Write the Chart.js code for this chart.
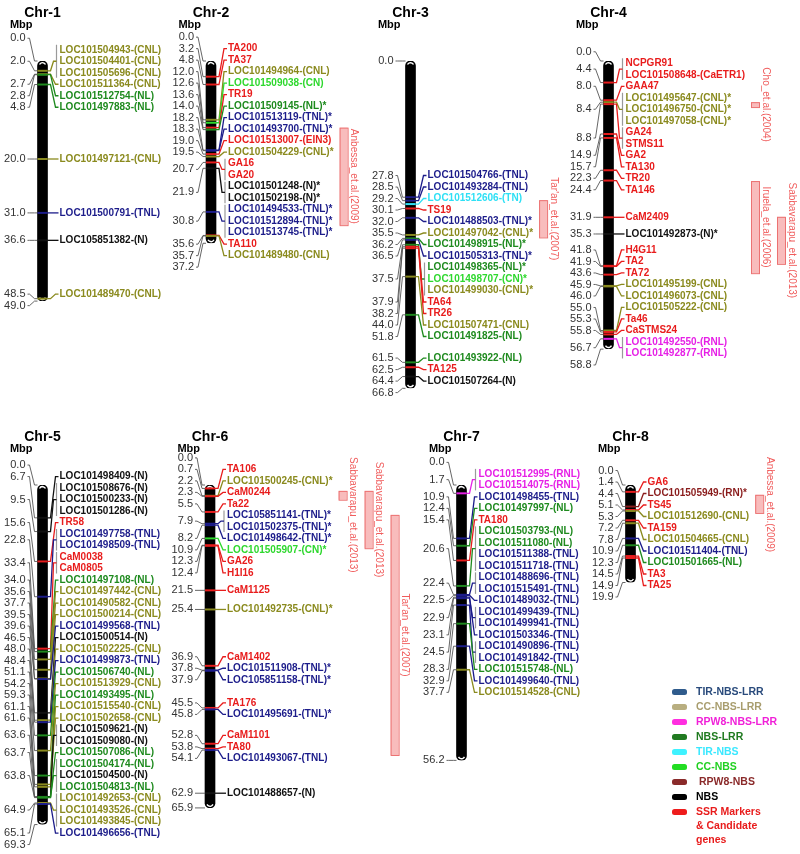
<!DOCTYPE html>
<html>
<head>
<meta charset="utf-8">
<title>NBS-LRR genes on chickpea chromosomes</title>
<script src="https://cdn.jsdelivr.net/npm/chart.js@4.4.1/dist/chart.umd.min.js"></script>
<style>
  body { margin: 0; background: #fff; }
  #wrap { position: relative; width: 800px; height: 854px; }
  #wrap canvas { position: absolute; left: 0; top: 0; }
</style>
</head>
<body>
<div id="wrap"></div>
<script>
// ---- data: chromosome length (Mbp), loci positions (Mbp) and genes at each locus ----
const chr1Length = 49.0;
const chr1Loci = [2.0, 2.7, 2.8, 4.8, 20.0, 31.0, 36.6, 48.5];
const chr1Genes = [
  ["LOC101504943-(CNL)", "LOC101504401-(CNL)", "LOC101505696-(CNL)"],
  ["LOC101511364-(CNL)"], ["LOC101512754-(NL)"], ["LOC101497883-(NL)"],
  ["LOC101497121-(CNL)"], ["LOC101500791-(TNL)"], ["LOC105851382-(N)"], ["LOC101489470-(CNL)"]
];

const chr2Length = 37.2;
const chr2Loci = [3.2, 4.8, 12.0, 12.6, 13.6, 14.0, 18.2, 18.3, 19.0, 19.5, 20.7, 21.9, 30.8, 35.6, 35.7];
const chr2Genes = [
  ["TA200"], ["TA37"], ["LOC101494964-(CNL)"], ["LOC101509038-(CN)"], ["TR19"],
  ["LOC101509145-(NL)*"], ["LOC101513119-(TNL)*"], ["LOC101493700-(TNL)*"], ["LOC101513007-(EIN3)"],
  ["LOC101504229-(CNL)*"], ["GA16", "GA20"], ["LOC101501248-(N)*", "LOC101502198-(N)*"],
  ["LOC101494533-(TNL)*", "LOC101512894-(TNL)*", "LOC101513745-(TNL)*"], ["TA110"], ["LOC101489480-(CNL)"]
];

const chr3Length = 66.8;
const chr3Loci = [27.8, 28.5, 29.2, 30.1, 32.0, 35.5, 36.2, 36.5, 37.5, 37.9, 38.2, 44.0, 51.8, 61.5, 62.5, 64.4];
const chr3Genes = [
  ["LOC101504766-(TNL)"], ["LOC101493284-(TNL)"], ["LOC101512606-(TN)"], ["TS19"],
  ["LOC101488503-(TNL)*"], ["LOC101497042-(CNL)*"], ["LOC101498915-(NL)*"], ["LOC101505313-(TNL)*"],
  ["LOC101498365-(NL)*", "LOC101498707-(CN)*", "LOC101499030-(CNL)*"], ["TA64"], ["TR26"],
  ["LOC101507471-(CNL)"], ["LOC101491825-(NL)"], ["LOC101493922-(NL)"], ["TA125"], ["LOC101507264-(N)"]
];

const chr4Length = 58.8;
const chr4Loci = [4.4, 8.0, 8.4, 8.8, 14.9, 15.7, 22.3, 24.4, 31.9, 35.3, 41.8, 41.9, 43.6, 45.9, 46.0, 55.0, 55.3, 55.8, 56.7];
const chr4Genes = [
  ["NCPGR91", "LOC101508648-(CaETR1)"], ["GAA47"],
  ["LOC101495647-(CNL)*", "LOC101496750-(CNL)*", "LOC101497058-(CNL)*"], ["GA24", "STMS11"],
  ["GA2"], ["TA130"], ["TR20"], ["TA146"], ["CaM2409"], ["LOC101492873-(N)*"], ["H4G11"], ["TA2"], ["TA72"],
  ["LOC101495199-(CNL)"], ["LOC101496073-(CNL)"], ["LOC101505222-(CNL)"], ["Ta46"], ["CaSTMS24"],
  ["LOC101492550-(RNL)", "LOC101492877-(RNL)"]
];

const chr5Length = 69.3;
const chr5Loci = [6.7, 9.5, 15.6, 22.8, 33.4, 34.0, 35.6, 37.7, 39.5, 39.6, 46.5, 48.0, 48.4, 51.1, 54.2, 59.3, 61.1, 61.6, 63.6, 63.7, 63.8, 64.9, 65.1];
const chr5Genes = [
  ["LOC101498409-(N)"], ["LOC101508676-(N)", "LOC101500233-(N)", "LOC101501286-(N)"], ["TR58"],
  ["LOC101497758-(TNL)", "LOC101498509-(TNL)"], ["CaM0038", "CaM0805"], ["LOC101497108-(NL)"],
  ["LOC101497442-(CNL)"], ["LOC101490582-(CNL)"], ["LOC101500214-(CNL)"], ["LOC101499568-(TNL)"],
  ["LOC101500514-(N)"], ["LOC101502225-(CNL)"], ["LOC101499873-(TNL)"], ["LOC101506740-(NL)"],
  ["LOC101513929-(CNL)"], ["LOC101493495-(NL)"], ["LOC101515540-(CNL)"], ["LOC101502658-(CNL)"],
  ["LOC101509621-(N)", "LOC101509080-(N)"], ["LOC101507086-(NL)"],
  ["LOC101504174-(NL)", "LOC101504500-(N)", "LOC101504813-(NL)"],
  ["LOC101492653-(CNL)", "LOC101493526-(CNL)", "LOC101493845-(CNL)"], ["LOC101496656-(TNL)"]
];

const chr6Length = 65.9;
const chr6Loci = [0.7, 2.2, 2.3, 5.5, 7.9, 8.2, 10.9, 12.3, 12.4, 21.5, 25.4, 36.9, 37.8, 37.9, 45.5, 45.8, 52.8, 53.8, 54.1, 62.9];
const chr6Genes = [
  ["TA106"], ["LOC101500245-(CNL)*"], ["CaM0244"], ["Ta22"],
  ["LOC105851141-(TNL)*", "LOC101502375-(TNL)*"], ["LOC101498642-(TNL)*"], ["LOC101505907-(CN)*"],
  ["GA26"], ["H1I16"], ["CaM1125"], ["LOC101492735-(CNL)*"], ["CaM1402"], ["LOC101511908-(TNL)*"],
  ["LOC105851158-(TNL)*"], ["TA176"], ["LOC101495691-(TNL)*"], ["CaM1101"], ["TA80"],
  ["LOC101493067-(TNL)"], ["LOC101488657-(N)"]
];

const chr7Length = 56.2;
const chr7Loci = [1.7, 10.9, 12.4, 15.4, 20.6, 22.4, 22.5, 22.9, 23.1, 24.5, 28.3, 32.9, 37.7];
const chr7Genes = [
  ["LOC101512995-(RNL)", "LOC101514075-(RNL)"], ["LOC101498455-(TNL)"], ["LOC101497997-(NL)"], ["TA180"],
  ["LOC101503793-(NL)", "LOC101511080-(NL)", "LOC101511388-(TNL)", "LOC101511718-(TNL)"],
  ["LOC101488696-(TNL)", "LOC101515491-(TNL)"], ["LOC101489032-(TNL)"],
  ["LOC101499439-(TNL)", "LOC101499941-(TNL)"], ["LOC101503346-(TNL)"],
  ["LOC101490896-(TNL)", "LOC101491842-(TNL)"], ["LOC101515748-(NL)"], ["LOC101499640-(TNL)"], ["LOC101514528-(CNL)"]
];

const chr8Length = 19.9;
const chr8Loci = [1.4, 4.4, 5.1, 5.3, 7.2, 7.8, 10.9, 12.3, 14.5, 14.9];
const chr8Genes = [
  ["GA6"], ["LOC101505949-(RN)*"], ["TS45"], ["LOC101512690-(CNL)"], ["TA159"],
  ["LOC101504665-(CNL)"], ["LOC101511404-(TNL)"], ["LOC101501665-(NL)"], ["TA3"], ["TA25"]
];

// QTL intervals (Mbp) reported in earlier studies
const qtlChrom = [2, 3, 4, 4, 4, 6, 6, 6, 8];
const qtlNames = ["Anbessa_et.al.(2009)", "Tar'an_et.al.(2007)", "Cho_et.al.(2004)", "Iruela_et.al.(2006)",
  "Sabbavarapu_et.al.(2013)", "Sabbavarapu_et.al.(2013)", "Sabbavarapu_et.al.(2013)", "Tar'an_et.al.(2007)",
  "Anbessa_et.al.(2009)"];
const qtlStart = [13.6, 28.4, 8.4, 24.5, 31.8, 1.2, 1.2, 6.1, 2.0];
const qtlEnd = [33.5, 36.0, 9.4, 43.3, 41.4, 3.0, 12.9, 55.1, 5.7];

const legendLabels = ["TIR-NBS-LRR", "CC-NBS-LRR", "RPW8-NBS-LRR", "NBS-LRR", "TIR-NBS", "CC-NBS", " RPW8-NBS", "NBS",
  "SSR Markers\n& Candidate\ngenes"];

// ---- styles / layout ----
const FONT = "'Liberation Sans', Arial, sans-serif";
const SCALE = 4.9;        // px per Mbp
const ROW = 11.5;         // label pitch
const typeColors = { CNL: '#8a8a1e', NL: '#1e8a1e', TNL: '#1c1c8a', TN: '#2ee0f5', CN: '#2ed82e',
  RNL: '#e620e6', RN: '#8a1c1c', N: '#111111' };
const markerColor = '#e81c1c';
const legendSwatch = ['#2f5b8c', '#b8ae80', '#ff2ee0', '#217a21', '#3ef2ff', '#22dd22', '#8a2a2a', '#000000', '#ee1c1c'];
const legendText = ['#2a4b7c', '#a89d6e', '#f020d8', '#1f7a1f', '#3ae8ff', '#22d022', '#8a2a2a', '#000000', '#e81c1c'];

const chromosomes = [
  { name: 'Chr-1', length: chr1Length, loci: chr1Loci, genes: chr1Genes, cx: 42.5, top: 61 },
  { name: 'Chr-2', length: chr2Length, loci: chr2Loci, genes: chr2Genes, cx: 211, top: 61 },
  { name: 'Chr-3', length: chr3Length, loci: chr3Loci, genes: chr3Genes, cx: 410.5, top: 61 },
  { name: 'Chr-4', length: chr4Length, loci: chr4Loci, genes: chr4Genes, cx: 608.5, top: 61 },
  { name: 'Chr-5', length: chr5Length, loci: chr5Loci, genes: chr5Genes, cx: 42.5, top: 485 },
  { name: 'Chr-6', length: chr6Length, loci: chr6Loci, genes: chr6Genes, cx: 210, top: 485 },
  { name: 'Chr-7', length: chr7Length, loci: chr7Loci, genes: chr7Genes, cx: 461.5, top: 485 },
  { name: 'Chr-8', length: chr8Length, loci: chr8Loci, genes: chr8Genes, cx: 630.5, top: 485 }
];

function geneColor(name) {
  const m = name.match(/\(([A-Za-z0-9]+)\)\*?$/);
  return (m && typeColors[m[1]]) ? typeColors[m[1]] : markerColor;
}

// spread labels: overlapping groups are merged and centred between their first and last locus
function placeRows(items) {
  const blocks = [];
  const blockTop = b => (b.first + b.last) / 2 - (b.rows - 1) * ROW / 2;
  items.forEach(it => {
    blocks.push({ first: it.d, last: it.d, rows: it.n, members: [it] });
    while (blocks.length > 1) {
      const cur = blocks[blocks.length - 1], prev = blocks[blocks.length - 2];
      if (blockTop(prev) + prev.rows * ROW + 2 > blockTop(cur)) {
        prev.last = cur.last; prev.rows += cur.rows; prev.members.push(...cur.members);
        blocks.pop();
      } else break;
    }
  });
  blocks.forEach(b => {
    let yy = blockTop(b);
    b.members.forEach(it => {
      it.rows = [];
      for (let k = 0; k < it.n; k++) { it.rows.push(yy); yy += ROW; }
      it.labelY = (it.rows[0] + it.rows[it.rows.length - 1]) / 2;
    });
  });
}

const mapPlugin = {
  id: 'chromMap',
  afterDatasetsDraw(chart, args, opts) {
    const c = opts.chrom;
    const ctx = chart.ctx;
    const ys = chart.scales.y;
    const bar = chart.getDatasetMeta(0).data[0];
    const bx = bar.x, hw = bar.width / 2;
    const top = ys.getPixelForValue(0), bottom = ys.getPixelForValue(c.length);
    const geneX = bx + 17, numX = bx - 17;

    const items = [{ pos: 0, genes: [] }]
      .concat(c.loci.map((p, i) => ({ pos: p, genes: c.genes[i] })))
      .concat([{ pos: c.length, genes: [] }]);
    items.forEach(it => { it.d = ys.getPixelForValue(it.pos); it.n = Math.max(1, it.genes.length); });
    placeRows(items);

    ctx.save();
    // telomere highlights
    ctx.strokeStyle = '#ffffff'; ctx.lineWidth = 1.4;
    ctx.beginPath(); ctx.arc(bx, top + 5, 3.3, Math.PI * 1.15, Math.PI * 1.85); ctx.stroke();
    ctx.beginPath(); ctx.arc(bx, bottom - 5, 3.3, Math.PI * 0.15, Math.PI * 0.85); ctx.stroke();

    // position connectors (left)
    ctx.strokeStyle = '#555'; ctx.lineWidth = 0.9;
    items.forEach(it => {
      ctx.beginPath();
      ctx.moveTo(numX + 2, it.labelY); ctx.lineTo(numX + 4, it.labelY);
      ctx.lineTo(bx - hw - 3, it.d); ctx.lineTo(bx - hw, it.d);
      ctx.stroke();
    });

    // gene connectors, brackets and marks on the chromosome
    items.forEach(it => {
      if (!it.genes.length) return;
      const col = geneColor(it.genes[0]);
      if (it.genes.length > 1) {
        ctx.strokeStyle = '#9a9a9a'; ctx.lineWidth = 1.2;
        ctx.beginPath();
        ctx.moveTo(geneX - 3, it.rows[0] - 5); ctx.lineTo(geneX - 3, it.rows[it.rows.length - 1] + 5);
        ctx.stroke();
      }
      const endX = it.genes.length > 1 ? geneX - 3 : geneX - 1;
      ctx.strokeStyle = col; ctx.lineWidth = 1.3;
      ctx.beginPath();
      ctx.moveTo(bx + hw, it.d); ctx.lineTo(bx + hw + 3, it.d);
      ctx.lineTo(endX - 3, it.labelY); ctx.lineTo(endX, it.labelY);
      ctx.stroke();
      ctx.lineWidth = 2;
      ctx.beginPath(); ctx.moveTo(bx - hw, it.d); ctx.lineTo(bx + hw, it.d); ctx.stroke();
    });

    // texts
    ctx.textBaseline = 'middle';
    ctx.textAlign = 'right'; ctx.fillStyle = '#333'; ctx.font = '11px ' + FONT;
    items.forEach(it => ctx.fillText(it.pos.toFixed(1), numX, it.labelY));
    ctx.textAlign = 'left'; ctx.font = 'bold 10px ' + FONT;
    let maxW = 0;
    items.forEach(it => it.genes.forEach((g, k) => {
      ctx.fillStyle = geneColor(g);
      ctx.fillText(g, geneX, it.rows[k]);
      maxW = Math.max(maxW, ctx.measureText(g).width);
    }));
    ctx.fillStyle = '#000';
    ctx.textAlign = 'center'; ctx.font = 'bold 14px ' + FONT;
    ctx.fillText(c.name, bx, top - 48);
    ctx.textAlign = 'right'; ctx.font = 'bold 11px ' + FONT;
    ctx.fillText('Mbp', bx - 10, top - 36);

    // QTL intervals
    const chrNo = Number(c.name.split('-')[1]);
    const baseX = geneX + maxW + 6;
    const used = [];
    ctx.font = '10px ' + FONT;
    qtlChrom.forEach((q, i) => {
      if (q !== chrNo) return;
      const y0 = ys.getPixelForValue(qtlStart[i]), y1 = ys.getPixelForValue(qtlEnd[i]);
      const tw = ctx.measureText(qtlNames[i]).width;
      let ty = Math.max((y0 + y1) / 2, top - 28 + tw / 2);
      const lo = Math.min(y0, ty - tw / 2), hi = Math.max(y1, ty + tw / 2);
      let colIdx = 0;
      while ((used[colIdx] || []).some(r => lo < r[1] && hi > r[0])) colIdx++;
      (used[colIdx] = used[colIdx] || []).push([lo, hi]);
      const rx = baseX + colIdx * 26;
      ctx.fillStyle = '#f8bcbc'; ctx.strokeStyle = '#ec7272'; ctx.lineWidth = 1;
      ctx.fillRect(rx, y0, 8, y1 - y0); ctx.strokeRect(rx + 0.5, y0 + 0.5, 8, y1 - y0);
      ctx.save();
      ctx.translate(rx + 14.5, ty); ctx.rotate(Math.PI / 2);
      ctx.fillStyle = '#f05c5c'; ctx.textAlign = 'center'; ctx.textBaseline = 'middle';
      ctx.fillText(qtlNames[i], 0, 0);
      ctx.restore();
    });

    // legend (drawn once)
    if (opts.legend) {
      let ly = 692;
      ctx.textAlign = 'left'; ctx.textBaseline = 'middle'; ctx.font = 'bold 10.5px ' + FONT;
      legendLabels.forEach((lab, i) => {
        ctx.fillStyle = legendSwatch[i];
        ctx.beginPath(); ctx.roundRect(672, ly - 3, 15, 6, 2.5); ctx.fill();
        ctx.fillStyle = legendText[i];
        lab.split('\n').forEach((line, k) => ctx.fillText(line, 696, ly + k * 14));
        ly += 15;
      });
    }
    ctx.restore();
  }
};

const wrap = document.getElementById('wrap');
chromosomes.forEach((c, idx) => {
  const cv = document.createElement('canvas');
  cv.width = 800; cv.height = 854;
  wrap.appendChild(cv);
  new Chart(cv, {
    type: 'bar',
    data: {
      labels: [c.name],
      datasets: [{
        data: [[0, c.length]],
        backgroundColor: '#000',
        borderRadius: 5,
        borderSkipped: false,
        barThickness: 10
      }]
    },
    options: {
      responsive: false,
      animation: false,
      events: [],
      layout: {
        padding: { left: c.cx - 15, right: 800 - c.cx - 15, top: c.top, bottom: 854 - c.top - c.length * SCALE }
      },
      scales: {
        x: { display: false },
        y: { display: false, reverse: true, min: 0, max: c.length }
      },
      plugins: {
        legend: { display: false },
        tooltip: { enabled: false },
        chromMap: { chrom: c, legend: idx === 7 }
      }
    },
    plugins: [mapPlugin]
  });
});
</script>
</body>
</html>
